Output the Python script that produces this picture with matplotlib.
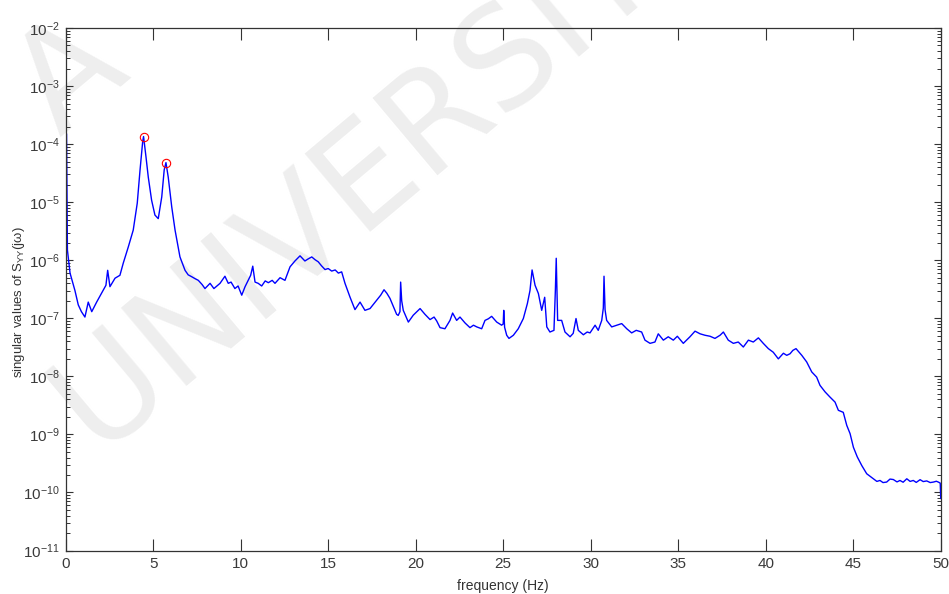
import matplotlib
matplotlib.use("Agg")
import matplotlib.pyplot as plt
from matplotlib.ticker import LogLocator, FixedLocator, NullFormatter

plt.rcParams["font.family"] = ["Liberation Sans Narrow", "Liberation Sans", "DejaVu Sans"]
plt.rcParams["mathtext.fontset"] = "custom"
plt.rcParams["mathtext.rm"] = "Liberation Sans Narrow"
plt.rcParams["mathtext.it"] = "Liberation Sans Narrow:italic"
plt.rcParams["mathtext.default"] = "regular"

# first singular value of the output spectral density matrix
freq_hz = [
    0.00, 0.05, 0.07, 0.10, 0.25, 0.53, 0.72, 0.90, 1.10, 1.29, 1.49, 1.77, 2.13, 2.30, 2.40, 2.53,
    2.82, 3.10, 3.29, 3.58, 3.86, 4.09, 4.25, 4.40, 4.45, 4.59, 4.72, 4.91, 5.10, 5.29,
    5.49, 5.63, 5.73, 5.86, 6.06, 6.25, 6.53, 6.82, 7.00, 7.20, 7.40, 7.58, 7.80, 7.96,
    8.25, 8.47, 8.82, 9.10, 9.29, 9.45, 9.67, 9.85, 10.06, 10.25, 10.43, 10.57, 10.69,
    10.82, 11.00, 11.20, 11.40, 11.58, 11.80, 11.96, 12.25, 12.53, 12.82, 13.10, 13.39,
    13.67, 13.85, 14.06, 14.25, 14.43, 14.62, 14.82, 15.00, 15.20, 15.40, 15.58, 15.77,
    15.96, 16.25, 16.53, 16.82, 17.10, 17.39, 17.77, 18.00, 18.19, 18.35, 18.53, 18.91,
    19.00, 19.10, 19.14, 19.20, 19.29, 19.58, 19.86, 20.15, 20.25, 20.53, 20.82, 21.05,
    21.20, 21.39, 21.67, 21.96, 22.11, 22.34, 22.53, 22.82, 23.10, 23.30, 23.49, 23.77,
    23.96, 24.15, 24.34, 24.63, 24.91, 25.00, 25.03, 25.08, 25.20, 25.33, 25.58, 25.86,
    26.15, 26.38, 26.53, 26.65, 26.82, 27.01, 27.20, 27.37, 27.49, 27.67, 27.90, 27.98,
    28.03, 28.08, 28.11, 28.34, 28.53, 28.82, 29.00, 29.16, 29.29, 29.58, 29.80, 29.96,
    30.25, 30.43, 30.63, 30.72, 30.76, 30.82, 30.91, 31.20, 31.49, 31.77, 32.06, 32.34,
    32.60, 32.91, 33.10, 33.39, 33.67, 33.86, 34.15, 34.43, 34.72, 34.95, 35.29, 35.67,
    35.96, 36.25, 36.53, 36.82, 37.10, 37.39, 37.58, 37.86, 38.15, 38.43, 38.72, 39.01,
    39.29, 39.58, 39.86, 40.15, 40.43, 40.72, 41.01, 41.20, 41.39, 41.55, 41.73, 42.06,
    42.34, 42.63, 42.91, 43.10, 43.39, 43.67, 43.96, 44.15, 44.43, 44.63, 44.82, 45.01,
    45.23, 45.49, 45.77, 46.15, 46.35, 46.53, 46.70, 46.91, 47.10, 47.29, 47.50, 47.67,
    47.85, 48.06, 48.25, 48.43, 48.60, 48.82, 49.00, 49.20, 49.40, 49.58, 49.75, 49.86,
    49.97, 50.00,
]
sv1 = [
    1.5e-4, 1.5e-4, 2.0e-5, 1.5e-6, 6.0e-7, 3.0e-7, 1.7e-7, 1.3e-7, 1.05e-7, 1.9e-7, 1.3e-7, 1.9e-7, 3.0e-7, 3.7e-7, 6.7e-7, 3.5e-7,
    4.9e-7, 5.5e-7, 8.9e-7, 1.7e-6, 3.3e-6, 9.6e-6, 3.6e-5, 1.1e-4, 1.35e-4, 6.0e-5, 2.7e-5, 1.08e-5, 6.0e-6, 5.2e-6,
    1.23e-5, 3.6e-5, 4.8e-5, 2.7e-5, 8.3e-6, 3.3e-6, 1.14e-6, 6.7e-7, 5.6e-7, 5.2e-7, 4.8e-7, 4.5e-7, 3.8e-7, 3.25e-7,
    4.0e-7, 3.25e-7, 4.0e-7, 5.3e-7, 4.0e-7, 4.2e-7, 3.25e-7, 3.6e-7, 2.5e-7, 3.5e-7, 4.5e-7, 5.5e-7, 7.9e-7,
    4.2e-7, 4.0e-7, 3.6e-7, 4.4e-7, 4.1e-7, 4.5e-7, 4.0e-7, 5.0e-7, 4.5e-7, 7.7e-7, 9.7e-7, 1.19e-6,
    9.7e-7, 1.05e-6, 1.14e-6, 1.02e-6, 9.4e-7, 8.0e-7, 6.9e-7, 7.2e-7, 6.5e-7, 6.8e-7, 6.0e-7, 6.3e-7,
    4.0e-7, 2.3e-7, 1.41e-7, 1.9e-7, 1.37e-7, 1.47e-7, 2.04e-7, 2.5e-7, 3.1e-7, 2.7e-7, 2.2e-7, 1.17e-7,
    1.12e-7, 1.3e-7, 4.2e-7, 2.0e-7, 1.37e-7, 8.6e-8, 1.13e-7, 1.37e-7, 1.47e-7, 1.17e-7, 9.5e-8, 1.05e-7,
    9.0e-8, 6.9e-8, 6.6e-8, 9.2e-8, 1.23e-7, 9.2e-8, 1.05e-7, 8.3e-8, 6.9e-8, 7.6e-8, 7.1e-8, 6.6e-8,
    9.2e-8, 9.8e-8, 1.08e-7, 8.6e-8, 7.6e-8, 8.0e-8, 1.37e-7, 7.0e-8, 5.1e-8, 4.5e-8, 5.1e-8, 6.6e-8,
    9.9e-8, 1.79e-7, 3.0e-7, 6.8e-7, 3.7e-7, 2.67e-7, 1.37e-7, 2.3e-7, 7.1e-8, 5.8e-8, 6.2e-8, 3.0e-7,
    1.08e-6, 2.5e-7, 9.2e-8, 9.2e-8, 5.8e-8, 4.8e-8, 5.5e-8, 9.9e-8, 6.2e-8, 5.2e-8, 5.8e-8, 5.6e-8,
    7.6e-8, 6.2e-8, 9.2e-8, 1.5e-7, 5.3e-7, 1.4e-7, 9.2e-8, 7.1e-8, 7.6e-8, 8.1e-8, 6.6e-8, 5.6e-8,
    6.2e-8, 5.8e-8, 4.2e-8, 3.7e-8, 3.9e-8, 5.4e-8, 4.2e-8, 4.8e-8, 4.2e-8, 4.9e-8, 3.7e-8, 4.8e-8,
    6.0e-8, 5.4e-8, 5.1e-8, 4.9e-8, 4.5e-8, 5.1e-8, 5.8e-8, 4.2e-8, 3.7e-8, 3.9e-8, 3.2e-8, 4.2e-8,
    3.9e-8, 4.6e-8, 3.7e-8, 3.0e-8, 2.6e-8, 2.0e-8, 2.5e-8, 2.3e-8, 2.45e-8, 2.8e-8, 3.0e-8, 2.3e-8,
    1.77e-8, 1.19e-8, 9.7e-9, 7.0e-9, 5.4e-9, 4.4e-9, 3.6e-9, 2.6e-9, 2.4e-9, 1.43e-9, 1.03e-9, 6.0e-10,
    4.1e-10, 2.9e-10, 2.1e-10, 1.72e-10, 1.55e-10, 1.61e-10, 1.48e-10, 1.51e-10, 1.70e-10, 1.67e-10, 1.52e-10, 1.61e-10,
    1.50e-10, 1.72e-10, 1.55e-10, 1.61e-10, 1.49e-10, 1.66e-10, 1.54e-10, 1.58e-10, 1.48e-10, 1.51e-10, 1.56e-10, 1.51e-10,
    1.45e-10, 7.9e-11,
]

# picked modal peaks
peak_freq_hz = [4.45, 5.73]
peak_sv = [1.35e-4, 4.8e-5]

x_ticks = [0, 5, 10, 15, 20, 25, 30, 35, 40, 45, 50]

fig = plt.figure(figsize=(9.49, 5.94), dpi=100)
fig.patch.set_facecolor("white")

# pale diagonal lettering, kept behind the axes
fig.text(0.408, 0.736, "UNIVERSITY", fontsize=100, color="#eeeeee", rotation=40,
         ha="center", va="center", family="DejaVu Sans", zorder=-10)
fig.text(0.075, 0.87, "A", fontsize=100, color="#eeeeee", rotation=40,
         ha="center", va="center", family="DejaVu Sans", zorder=-10)

ax = fig.add_axes([0.0692, 0.0732, 0.9221, 0.8797])
ax.patch.set_alpha(0)

ax.plot(freq_hz, sv1, color="#0000ff", linewidth=1.0)
ax.plot(peak_freq_hz, peak_sv, linestyle="none", marker="o", markersize=6,
        markerfacecolor="none", markeredgecolor="#ff0000", markeredgewidth=0.8)

ax.set_yscale("log")
ax.set_xlim(0, 50)
ax.set_ylim(1e-11, 1e-2)
ax.xaxis.set_major_locator(FixedLocator(x_ticks))
ax.yaxis.set_major_locator(LogLocator(base=10, numticks=20))
ax.yaxis.set_minor_locator(LogLocator(base=10, subs=range(2, 10), numticks=20))
ax.yaxis.set_minor_formatter(NullFormatter())

ax.tick_params(axis="both", which="both", direction="in", top=True, right=True,
               colors="#333333", labelcolor="#3a3a3a", labelsize=11)
ax.tick_params(axis="x", which="major", length=8.5, width=0.8, pad=5)
ax.tick_params(axis="y", which="major", length=5, width=0.8, pad=4)
ax.tick_params(axis="y", which="minor", length=3, width=0.7)
for spine in ax.spines.values():
    spine.set_color("#333333")
    spine.set_linewidth(0.9)

ax.set_xlabel("frequency (Hz)", fontsize=10, color="#333333")
ax.xaxis.set_label_coords(0.5, -0.055)
ax.set_ylabel(r"singular values of $S_{YY}(j\omega)$", fontsize=9.5, color="#333333",
              family=["Liberation Sans", "DejaVu Sans"])
ax.yaxis.set_label_coords(-0.044, 0.475)

fig.savefig("out.png", dpi=100)
